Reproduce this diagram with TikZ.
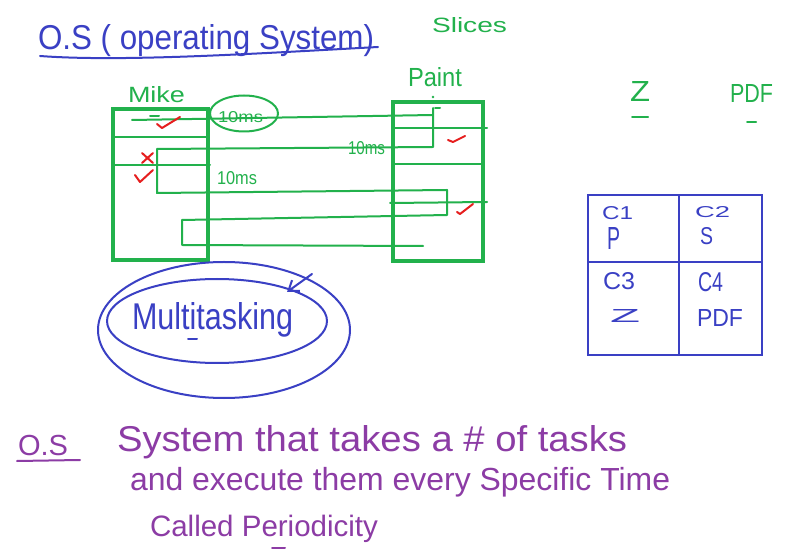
\documentclass[tikz,border=0pt]{standalone}
\usepackage{fontspec}
\setmainfont{Liberation Sans}
\usepackage{graphicx}
\usetikzlibrary{arrows.meta}
\definecolor{inkblue}{RGB}{58,64,196}
\definecolor{inkgreen}{RGB}{34,177,76}
\definecolor{inkred}{RGB}{230,30,30}
\definecolor{inkpurple}{RGB}{140,60,165}
\newcommand\fw[2]{\resizebox{\dimexpr #1pt*3/4\relax}{!}{#2}}
\newcommand\fwh[3]{\resizebox{\dimexpr #1pt*3/4\relax}{\dimexpr #2pt*3/4\relax}{#3}}
\begin{document}
\begin{tikzpicture}[x=0.75pt,y=-0.75pt,
  lbl/.style={anchor=base west,inner sep=0pt,outer sep=0pt},
  gline/.style={draw=inkgreen,line width=1.5pt,line join=round,line cap=round},
  gbox/.style={draw=inkgreen,line width=2.4pt,inner sep=0pt,outer sep=0pt},
  bline/.style={draw=inkblue,line width=1.5pt,line cap=round,line join=round},
  cell/.style={draw=inkblue,line width=2pt,inner sep=0pt,outer sep=0pt},
  rmark/.style={draw=inkred,line width=1.5pt,line cap=round,line join=round},
  pline/.style={draw=inkpurple,line width=1.5pt,line cap=round},
]
\fill[white] (0,0) rectangle (795,555);
\useasboundingbox (0,0) rectangle (795,555);

% title
\node[lbl,text=inkblue] (title) at (38,50) {\fwh{336}{25}{O.S ( operating System)}};
\draw[bline] (40,56) .. controls (120,62) and (250,54) .. (378,47);
\node[lbl,text=inkgreen] (slices) at (432,33) {\fwh{75}{15}{Slices}};

% process boxes
\node[gbox,minimum width=71.25pt,minimum height=113.25pt] (mike) at (160.5,184.5) {};
\node[gbox,minimum width=67.5pt,minimum height=119.25pt] (paint) at (438,181.5) {};
\node[lbl,text=inkgreen] (mikelbl) at (128,103) {\fwh{57}{16}{Mike}};
\node[lbl,text=inkgreen] (paintlbl) at (408,87) {\fwh{54}{19}{Paint}};

% separators
\draw[gline] (113,137) -- (208,137);
\draw[gline] (113,165) -- (210,165);
\draw[gline] (393,128) -- (487,128);
\draw[gline] (393,164) -- (482,164);
\draw[gline] (390,203) -- (487,202);

% time slice path
\draw[gline] (132,120) -- (433,115) -- (433,108) (433,115) -- (433,147) -- (157,149) -- (157,193)
  -- (447,190) -- (447,215) -- (182,220) -- (182,245) -- (423,246);
\draw[gline] (150,116) -- (159,116);
\draw[gline] (435,108) -- (440,108);
\fill[inkgreen] (433,97) circle (1pt);

% 10ms labels
\node[lbl,text=inkgreen] (t1) at (218,123) {\fwh{45}{11}{10ms}};
\draw[gline] (244,113.5) ellipse [x radius=25.5pt, y radius=13.5pt];
\node[lbl,text=inkgreen] (t2) at (348,155) {\fwh{37}{13}{10ms}};
\node[lbl,text=inkgreen] (t3) at (217,185) {\fwh{40}{13}{10ms}};

% red marks
\draw[rmark] (157,124) -- (162,128) -- (180,117);
\draw[rmark] (142,153) -- (153,163) (153,153) -- (142,163);
\draw[rmark] (135,175) -- (140,182) -- (153,170);
\draw[rmark] (448,140) -- (453,142) -- (465,136);
\draw[rmark] (457,212) -- (460,214) -- (473,204);

% multitasking
\draw[bline] (224,330) ellipse [x radius=94.5pt, y radius=51pt];
\draw[bline] (217,321) ellipse [x radius=82.5pt, y radius=31.5pt];
\node[lbl,text=inkblue] (multi) at (132,330) {\fwh{161}{27}{Multitasking}};
\coordinate (arrs) at (312,274);
\coordinate (arre) at (287,292);
\draw[bline,-{Straight Barb[length=7pt,width=10pt]}] (arrs) -- (arre);
\draw[bline] (188,339) -- (197,339);

% right labels
\node[lbl,text=inkgreen] (zr) at (630,102) {\fwh{20}{20}{Z}};
\draw[gline] (632,117) -- (648,117);
\node[lbl,text=inkgreen] (pdfr) at (730,103) {\fwh{43}{18}{PDF}};
\draw[gline] (747,122) -- (756,122);

% table
\node[cell,minimum width=68.25pt,minimum height=50.25pt] (c1) at (633.5,228.5) {};
\node[cell,minimum width=62.25pt,minimum height=50.25pt] (c2) at (720.5,228.5) {};
\node[cell,minimum width=68.25pt,minimum height=69.75pt] (c3) at (633.5,308.5) {};
\node[cell,minimum width=62.25pt,minimum height=69.75pt] (c4) at (720.5,308.5) {};
\node[lbl,text=inkblue] (c1a) at (602,220) {\fwh{31}{13}{C1}};
\node[lbl,text=inkblue] (c1b) at (607,250) {\fwh{13}{22}{P}};
\node[lbl,text=inkblue] (c2a) at (695,218) {\fwh{35}{11}{C2}};
\node[lbl,text=inkblue] (c2b) at (700,245) {\fwh{13}{17}{S}};
\node[lbl,text=inkblue] (c3a) at (603,290) {\fwh{32}{17}{C3}};
\node[lbl,text=inkblue] (c3b) at (610,323) {\fwh{30}{13}{Z}};
\node[lbl,text=inkblue] (c4a) at (698,292) {\fwh{25}{19}{C4}};
\node[lbl,text=inkblue] (c4b) at (697,327) {\fwh{46}{17}{PDF}};

% definition
\node[lbl,text=inkpurple] (os) at (18,455) {\fw{50}{O.S}};
\draw[pline] (17,461) -- (80,460);
\node[lbl,text=inkpurple] (d1) at (117,451) {\fwh{510}{26}{System that takes a \# of tasks}};
\node[lbl,text=inkpurple] (d2) at (130,490) {\fw{540}{and execute them every Specific Time}};
\node[lbl,text=inkpurple] (d3) at (150,536) {\fw{228}{Called Periodicity}};
\draw[pline] (272,548) -- (285,548);
\end{tikzpicture}
\end{document}
